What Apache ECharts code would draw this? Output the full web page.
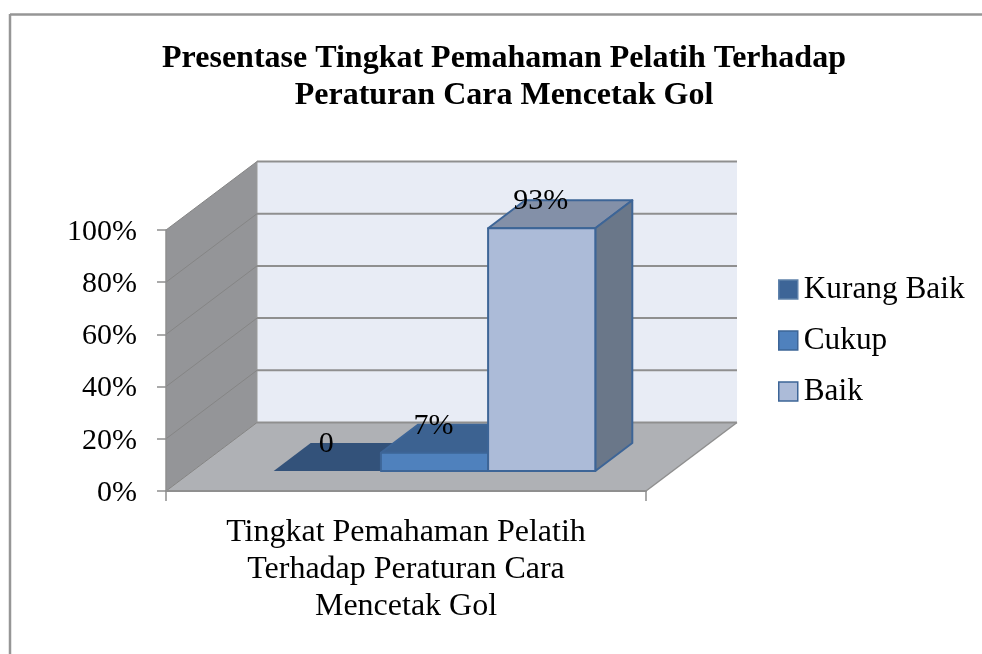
<!DOCTYPE html>
<html>
<head>
<meta charset="utf-8">
<style>html,body{margin:0;padding:0;background:#fff}#c{width:982px;height:654px}</style>
<script src="https://cdn.jsdelivr.net/npm/echarts@6/dist/echarts.min.js"></script>
</head>
<body>
<div id="c"></div>
<script>
// ---- data ----
const categories = ['Tingkat Pemahaman Pelatih\nTerhadap Peraturan Cara\nMencetak Gol'];
const seriesNames = ['Kurang Baik', 'Cukup', 'Baik'];
const kurangBaik = [0];
const cukup = [7];
const baik = [93];
const dataLabels = ['0', '7%', '93%'];
const yTicks = [0, 20, 40, 60, 80, 100];
const titleText = 'Presentase Tingkat Pemahaman Pelatih Terhadap\nPeraturan Cara Mencetak Gol';

// ---- 3D projection (pixels per depth of the plot box and of a bar) ----
const WALL_DX = 91, WALL_DY = -68.5;
const BAR_SHIFT_DX = 28.5, BAR_SHIFT_DY = -20;
const BAR_DX = 37, BAR_DY = -28;
const BAR_BAND_SHARE = 0.67;
const FONT = '"Liberation Serif","Times New Roman",serif';
const GRID = '#8f8f8f';
const styles = [
  {front: '#3D6597', top: '#33527A', side: '#33527A', border: '#3D6597', legendBorder: '#5f82ab'},
  {front: '#4F81BD', top: '#3C6291', side: '#34557F', border: '#3D6597', legendBorder: '#3D6597'},
  {front: '#ACBBD8', top: '#8390A8', side: '#6A7789', border: '#3D6597', legendBorder: '#3D6597'}
];

function poly(points, fill, stroke, lw) {
  return {type: 'polygon', shape: {points},
    style: {fill, stroke: stroke || null, lineWidth: lw || 0, lineJoin: 'round'}};
}
function line(a, b, stroke, lw) {
  return {type: 'line', shape: {x1: a[0], y1: a[1], x2: b[0], y2: b[1]},
    style: {stroke, lineWidth: lw}};
}

function renderWalls(params, api) {
  const b = api.coord([0, 0]), t = api.coord([0, 100]);
  const band = api.size([1, 0])[0];
  const l = b[0] - band / 2, r = b[0] + band / 2, y0 = b[1], y1 = t[1];
  const dx = WALL_DX, dy = WALL_DY;
  return {type: 'group', children: [
    poly([[l + dx, y1 + dy], [r + dx, y1 + dy], [r + dx, y0 + dy], [l + dx, y0 + dy]], '#E8ECF5'),
    poly([[l, y1], [l + dx, y1 + dy], [l + dx, y0 + dy], [l, y0]], '#949598'),
    poly([[l, y0], [l + dx, y0 + dy], [r + dx, y0 + dy], [r, y0]], '#AFB1B5'),
    line([l + dx, y1 + dy], [l + dx, y0 + dy], '#9a9a9a', 1),
    line([l, y0], [l + dx, y0 + dy], '#a0a0a0', 1),
    line([r, y0], [r + dx, y0 + dy], GRID, 1.5)
  ]};
}
function renderGrid(params, api) {
  const p = api.coord([0, api.value(1)]);
  const band = api.size([1, 0])[0];
  const l = p[0] - band / 2, r = p[0] + band / 2;
  return {type: 'group', children: [
    line([l, p[1]], [l + WALL_DX, p[1] + WALL_DY], '#858585', 1),
    line([l + WALL_DX, p[1] + WALL_DY], [r + WALL_DX, p[1] + WALL_DY], GRID, 2)
  ]};
}
function barRenderer(idx) {
  return function (params, api) {
    const v = api.value(1);
    const base = api.coord([0, 0]), top = api.coord([0, v]);
    const band = api.size([1, 0])[0];
    const w = band * BAR_BAND_SHARE / 3;
    const x0 = base[0] - band * BAR_BAND_SHARE / 2 + idx * w + BAR_SHIFT_DX;
    const x1 = x0 + w;
    const yb = base[1] + BAR_SHIFT_DY, yt = top[1] + BAR_SHIFT_DY;
    const s = styles[idx];
    const lw = v > 0 ? 2 : 0;
    const children = [
      poly([[x0, yt], [x0 + BAR_DX, yt + BAR_DY], [x1 + BAR_DX, yt + BAR_DY], [x1, yt]], s.top, v > 0 ? s.border : null, lw),
      poly([[x1, yb], [x1 + BAR_DX, yb + BAR_DY], [x1 + BAR_DX, yt + BAR_DY], [x1, yt]], s.side, v > 0 ? s.border : null, lw)
    ];
    if (v > 0) {
      children.push(poly([[x0, yb], [x1, yb], [x1, yt], [x0, yt]], s.front, s.border, lw));
    }
    children.push({type: 'text', z2: 50, style: {
      x: (x0 + x1) / 2 - 1, y: yt + BAR_DY + 1,
      text: dataLabels[idx], font: '30px ' + FONT, fill: '#000',
      align: 'center', verticalAlign: 'middle'
    }});
    return {type: 'group', children};
  };
}

const barValues = [kurangBaik, cukup, baik];
const chart = echarts.init(document.getElementById('c'), null, {renderer: 'canvas'});
chart.setOption({
  animation: false,
  backgroundColor: '#fff',
  title: {
    text: titleText, left: 499, top: 35, textAlign: 'center',
    textStyle: {fontFamily: FONT, fontWeight: 'bold', fontSize: 32, lineHeight: 37, color: '#000'}
  },
  legend: {
    orient: 'vertical', left: 773, top: 268, itemWidth: 19, itemHeight: 19, itemGap: 18, selectedMode: false,
    textStyle: {fontFamily: FONT, fontSize: 31.3, color: '#000', padding: [0, 0, 0, 1], lineHeight: 33},
    data: seriesNames.map((n, i) => ({name: n, icon: 'rect',
      itemStyle: {color: styles[i].front, borderColor: styles[i].legendBorder, borderWidth: 1.5}}))
  },
  grid: {left: 166, right: 336, top: 230, bottom: 163},
  xAxis: {
    type: 'category', data: categories, z: 6,
    axisLine: {show: true, lineStyle: {color: GRID, width: 2}},
    axisTick: {show: true, length: 10, lineStyle: {color: GRID, width: 1.5}},
    axisLabel: {fontFamily: FONT, fontSize: 32, lineHeight: 37, color: '#000', margin: 23, interval: 0}
  },
  yAxis: {
    type: 'value', min: 0, max: 100, interval: 20, z: 6,
    axisLine: {show: true, lineStyle: {color: GRID, width: 1.5}},
    axisTick: {show: true, length: 9, lineStyle: {color: GRID, width: 1.5}},
    axisLabel: {
      color: '#000', margin: 29, formatter: '{t|{value}%}',
      rich: {t: {fontFamily: FONT, fontSize: 30, color: '#000', padding: [4, 0, 0, 0]}}
    },
    splitLine: {show: false}
  },
  graphic: [
    {type: 'line', z: 100, shape: {x1: 10, y1: 14.5, x2: 982, y2: 14.5}, style: {stroke: '#969696', lineWidth: 2.5}},
    {type: 'line', z: 100, shape: {x1: 10, y1: 14, x2: 10, y2: 654}, style: {stroke: '#969696', lineWidth: 2.5}}
  ],
  series: [
    {type: 'custom', name: '_walls', z: 1, silent: true, renderItem: renderWalls, data: [[0, 0]]},
    {type: 'custom', name: '_grid', z: 2, silent: true, renderItem: renderGrid, data: yTicks.map(t => [0, t])}
  ].concat(seriesNames.map((n, i) => ({
    type: 'custom', name: n, z: 3 + i, renderItem: barRenderer(i),
    itemStyle: {color: styles[i].front},
    data: barValues[i].map(v => [0, v])
  })))
});
</script>
</body>
</html>
